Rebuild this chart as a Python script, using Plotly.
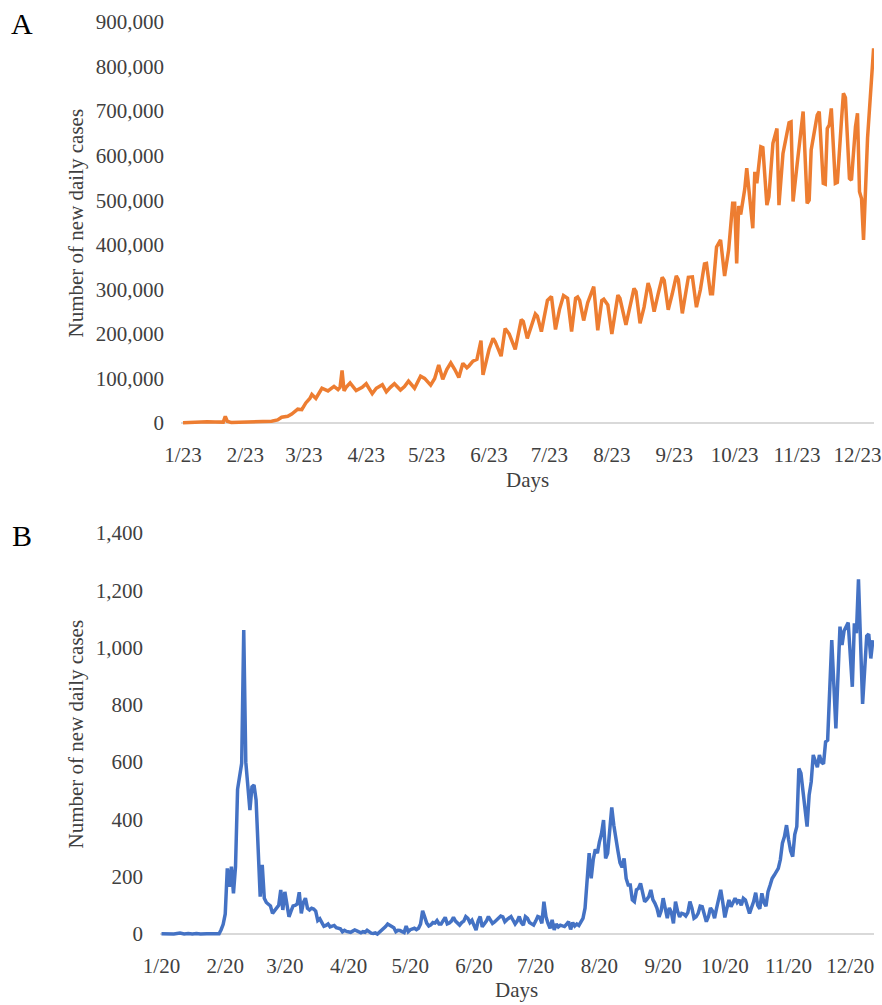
import pandas as pd
import plotly.graph_objects as go

# ---------------- data ----------------
# Panel A: worldwide number of new daily cases; x = days since 2020-01-23
world_start = "2020-01-23"
world_day = [
    0, 4, 8, 12, 16, 20, 21, 22, 24, 30,
    36, 40, 44, 47, 49, 52, 54, 57, 59, 61,
    63, 64, 66, 69, 72, 75, 77, 78, 79, 80,
    81, 83, 86, 89, 91, 94, 96, 99, 101, 103,
    105, 108, 110, 112, 115, 118, 120, 123, 125, 127,
    129, 131, 133, 135, 137, 139, 141, 142, 144, 146,
    148, 149, 150, 152, 154, 155, 158, 160, 162, 165,
    168, 169, 171, 173, 175, 176, 178, 181, 183, 185,
    187, 189, 191, 193, 195, 196, 197, 199, 201, 204,
    206, 208, 209, 211, 213, 216, 217, 220, 222, 224,
    225, 227, 229, 231, 232, 234, 236, 238, 239, 241,
    243, 245, 246, 248, 250, 251, 253, 255, 257, 259,
    260, 262, 263, 265, 267, 269, 271, 273, 274, 275,
    276, 277, 279, 280, 283, 284, 285, 287, 288, 290,
    291, 293, 295, 296, 298, 301, 302, 303, 305, 306,
    308, 310, 311, 312, 315, 316, 318, 319, 320, 321,
    322, 324, 325, 327, 328, 329, 331, 332, 334, 335,
    336, 337, 338, 340, 341, 343,
]
world_cases = [
    600, 2000, 2500, 3000, 2500, 2000, 15000, 4000, 1000, 1500,
    1500, 2500, 4000, 7000, 13000, 15000, 20000, 31000, 30000, 45000,
    55000, 64000, 55000, 78000, 72000, 82000, 75000, 80000, 118000, 72000,
    80000, 90000, 73000, 80000, 88000, 66000, 78000, 86000, 70000, 80000,
    88000, 74000, 82000, 94000, 78000, 105000, 100000, 85000, 100000, 130000,
    98000, 120000, 135000, 120000, 102000, 134000, 124000, 128000, 139000, 143000,
    185000, 108000, 130000, 165000, 190000, 183000, 150000, 212000, 200000, 165000,
    232000, 228000, 190000, 220000, 245000, 240000, 205000, 275000, 284000, 210000,
    255000, 286000, 280000, 205000, 280000, 283000, 275000, 230000, 270000, 306000,
    208000, 275000, 278000, 265000, 200000, 287000, 280000, 220000, 260000, 302000,
    295000, 224000, 260000, 314000, 300000, 250000, 290000, 327000, 320000, 254000,
    290000, 330000, 322000, 246000, 300000, 327000, 328000, 260000, 300000, 357000,
    358000, 290000, 290000, 395000, 411000, 330000, 388000, 493000, 493000, 358000,
    487000, 468000, 525000, 572000, 437000, 564000, 538000, 620000, 618000, 489000,
    508000, 628000, 661000, 489000, 605000, 674000, 676000, 497000, 580000, 617000,
    699000, 493000, 500000, 613000, 691000, 699000, 538000, 536000, 661000, 669000,
    706000, 538000, 540000, 676000, 740000, 730000, 549000, 545000, 665000, 695000,
    519000, 504000, 411000, 640000, 700000, 841000,
]
world_tick_dates = ["2020-01-23", "2020-02-23", "2020-03-23", "2020-04-23", "2020-05-23",
                    "2020-06-23", "2020-07-23", "2020-08-23", "2020-09-23", "2020-10-23",
                    "2020-11-23", "2020-12-23"]
world_tick_text = ["1/23", "2/23", "3/23", "4/23", "5/23", "6/23", "7/23", "8/23",
                   "9/23", "10/23", "11/23", "12/23"]
world_y_ticks = [0, 100000, 200000, 300000, 400000, 500000, 600000, 700000, 800000, 900000]

# Panel B: Korea number of new daily cases; x = days since 2020-01-20
korea_start = "2020-01-20"
korea_day = [
    0, 2, 4, 6, 9, 11, 13, 15, 17, 19,
    22, 25, 28, 29, 30, 31, 32, 33, 34, 35,
    36, 37, 38, 39, 40, 41, 42, 43, 44, 45,
    46, 47, 48, 49, 50, 51, 52, 53, 54, 55,
    56, 57, 58, 59, 60, 61, 62, 63, 64, 65,
    66, 67, 68, 69, 70, 71, 72, 73, 74, 75,
    76, 77, 78, 79, 80, 81, 82, 83, 84, 85,
    86, 87, 88, 89, 90, 91, 92, 93, 94, 95,
    96, 97, 98, 99, 100, 101, 102, 103, 104, 105,
    106, 107, 108, 109, 110, 111, 112, 113, 114, 115,
    116, 117, 118, 119, 120, 121, 122, 123, 124, 125,
    126, 127, 128, 129, 130, 131, 132, 133, 134, 135,
    136, 137, 138, 139, 140, 141, 142, 143, 144, 145,
    146, 147, 148, 149, 150, 151, 152, 153, 154, 155,
    156, 157, 158, 159, 160, 161, 162, 163, 164, 165,
    166, 167, 168, 169, 170, 171, 172, 173, 174, 175,
    176, 177, 178, 179, 180, 181, 182, 183, 184, 185,
    186, 187, 188, 189, 190, 191, 192, 193, 194, 195,
    196, 197, 198, 199, 200, 201, 202, 203, 204, 205,
    206, 207, 208, 209, 210, 211, 212, 213, 214, 215,
    216, 217, 218, 219, 220, 221, 222, 223, 224, 225,
    226, 227, 228, 229, 230, 231, 232, 233, 234, 235,
    236, 237, 238, 239, 240, 241, 242, 243, 244, 245,
    246, 247, 248, 249, 250, 251, 252, 253, 254, 255,
    256, 257, 258, 259, 260, 261, 262, 263, 264, 265,
    266, 267, 268, 269, 270, 271, 272, 273, 274, 275,
    276, 277, 278, 279, 280, 281, 282, 283, 284, 286,
    288, 289, 290, 291, 292, 293, 294, 295, 296, 297,
    298, 299, 300, 301, 302, 303, 304, 305, 306, 307,
    308, 309, 310, 311, 312, 313, 314, 315, 316, 317,
    318, 319, 320, 321, 322, 323, 324, 325, 326, 328,
    330, 331, 332, 334, 336, 337, 338, 339, 341, 343,
    344, 345, 346,
]
korea_cases = [
    1, 0, 1, 0, 3, 0, 2, 0, 2, 0,
    1, 0, 1, 15, 34, 70, 229, 165, 235, 142,
    235, 505, 549, 596, 1061, 600, 516, 433, 514, 520,
    468, 300, 130, 241, 125, 110, 105, 98, 72, 80,
    89, 100, 154, 84, 147, 100, 60, 80, 98, 100,
    105, 146, 72, 110, 125, 90, 84, 90, 87, 80,
    47, 53, 39, 27, 30, 35, 25, 27, 30, 22,
    20, 18, 8, 13, 9, 8, 6, 10, 14, 11,
    9, 4, 8, 6, 13, 8, 3, 2, 4, 0,
    6, 12, 18, 26, 35, 30, 28, 22, 8, 13,
    12, 10, 5, 28, 8, 15, 18, 20, 15, 20,
    35, 81, 60, 38, 28, 32, 40, 38, 47, 35,
    35, 50, 58, 35, 38, 45, 58, 45, 38, 31,
    40, 45, 61, 55, 40, 48, 30, 14, 45, 61,
    25, 35, 45, 61, 48, 37, 42, 48, 55, 63,
    60, 43, 50, 55, 61, 48, 35, 45, 61, 40,
    31, 61, 55, 40, 35, 31, 45, 61, 58, 37,
    113, 60, 37, 20, 49, 14, 35, 25, 31, 28,
    26, 34, 43, 16, 40, 28, 35, 30, 45, 55,
    90, 190, 282, 194, 260, 296, 282, 322, 350, 398,
    264, 282, 350, 442, 380, 328, 290, 249, 233, 264,
    194, 171, 171, 119, 113, 154, 159, 177, 150, 113,
    120, 130, 154, 120, 107, 90, 60, 80, 125, 90,
    55, 91, 75, 37, 113, 80, 60, 72, 70, 63,
    75, 113, 90, 55, 60, 72, 97, 95, 70, 43,
    60, 91, 80, 55, 90, 120, 154, 110, 58, 90,
    119, 95, 110, 125, 110, 119, 100, 125, 119, 72,
    113, 144, 100, 88, 142, 110, 97, 148, 170, 194,
    205, 218, 229, 260, 317, 340, 380, 330, 290, 270,
    347, 375, 578, 561, 500, 420, 375, 485, 531, 625,
    600, 582, 625, 600, 594, 671, 677, 852, 1026, 718,
    1073, 1009, 1059, 1087, 863, 1085, 1050, 1238, 803, 1040,
    1047, 962, 1026,
]
korea_tick_dates = ["2020-01-20", "2020-02-20", "2020-03-20", "2020-04-20", "2020-05-20",
                    "2020-06-20", "2020-07-20", "2020-08-20", "2020-09-20", "2020-10-20",
                    "2020-11-20", "2020-12-20"]
korea_tick_text = ["1/20", "2/20", "3/20", "4/20", "5/20", "6/20", "7/20", "8/20",
                   "9/20", "10/20", "11/20", "12/20"]
korea_y_ticks = [0, 200, 400, 600, 800, 1000, 1200, 1400]

# ---------------- layout geometry (pixels) ----------------
W, H = 882, 1005
FONT = "Liberation Serif"
TXT = "#404040"


def fx(p):
    return p / W


def fy(p):
    return 1 - p / H


def x_range(start, origin_px, px_per_day, left_px, right_px):
    s = pd.Timestamp(start)
    return [s + pd.Timedelta(days=(left_px - origin_px) / px_per_day),
            s + pd.Timedelta(days=(right_px - origin_px) / px_per_day)]


# top panel
A_left, A_right = 181, 874
A_zero, A_topv_px, A_topv = 423, 22, 900000
A_pad = 5
A_ymin = -A_pad * A_topv / (A_zero - A_topv_px)
# bottom panel
B_left, B_right = 160, 874
B_zero, B_topv_px, B_topv = 934, 533, 1400
B_pad = 5
B_ymin = -B_pad * B_topv / (B_zero - B_topv_px)

xw = pd.Timestamp(world_start) + pd.to_timedelta(world_day, unit="D")
xk = pd.Timestamp(korea_start) + pd.to_timedelta(korea_day, unit="D")

fig = go.Figure()
fig.add_trace(go.Scatter(x=xw, y=world_cases, mode="lines",
                         line=dict(color="#ED7D31", width=3.5),
                         xaxis="x", yaxis="y", hoverinfo="skip"))
fig.add_trace(go.Scatter(x=xk, y=korea_cases, mode="lines",
                         line=dict(color="#4472C4", width=3.5),
                         xaxis="x2", yaxis="y2", hoverinfo="skip"))

tickfont = dict(family=FONT, size=21, color=TXT)
common_x = dict(type="date", showgrid=False, zeroline=False, showline=False, ticks="",
                tickfont=tickfont, ticklabelstandoff=12, automargin=False)
common_y = dict(showgrid=False, zeroline=True, zerolinecolor="#D9D9D9", zerolinewidth=1.5,
                showline=False, ticks="", tickfont=tickfont, tickformat=",d",
                ticklabelstandoff=16, automargin=False)

fig.update_layout(
    template="none",
    width=W, height=H, autosize=False,
    margin=dict(l=0, r=0, t=0, b=0, pad=0, autoexpand=False),
    paper_bgcolor="white", plot_bgcolor="white",
    showlegend=False, hovermode=False,
    separators=".,",
    xaxis=dict(common_x, domain=[fx(A_left), fx(A_right)], anchor="y",
               range=x_range(world_start, 183, 2.0134, A_left, A_right),
               tickvals=world_tick_dates, ticktext=world_tick_text),
    yaxis=dict(common_y, domain=[fy(A_zero + A_pad), fy(A_topv_px)], anchor="x",
               range=[A_ymin, A_topv], tickvals=world_y_ticks),
    xaxis2=dict(common_x, domain=[fx(B_left), fx(B_right)], anchor="y2",
                range=x_range(korea_start, 161.5, 2.056, B_left, B_right),
                tickvals=korea_tick_dates, ticktext=korea_tick_text),
    yaxis2=dict(common_y, domain=[fy(B_zero + B_pad), fy(B_topv_px)], anchor="x2",
                range=[B_ymin, B_topv], tickvals=korea_y_ticks),
)

ann = [
    dict(text="A", x=fx(22), y=fy(23), font=dict(family=FONT, size=30, color="black")),
    dict(text="B", x=fx(22), y=fy(535), font=dict(family=FONT, size=30, color="black")),
    dict(text="Number of new daily cases", x=fx(75.5), y=fy(223), textangle=-90,
         font=dict(family=FONT, size=21, color=TXT)),
    dict(text="Number of new daily cases", x=fx(75.5), y=fy(734), textangle=-90,
         font=dict(family=FONT, size=21, color=TXT)),
    dict(text="Days", x=fx(527), y=fy(480), font=dict(family=FONT, size=21, color=TXT)),
    dict(text="Days", x=fx(516.5), y=fy(990), font=dict(family=FONT, size=21, color=TXT)),
]
for a in ann:
    a.update(xref="paper", yref="paper", showarrow=False, xanchor="center", yanchor="middle")
    fig.add_annotation(**a)

# page body margin removed so the 882x1005 figure fills the window exactly
fig.write_html("out.html", config={"displayModeBar": False},
               post_script="document.body.style.margin='0px';"
                           "document.documentElement.style.overflow='hidden';")
